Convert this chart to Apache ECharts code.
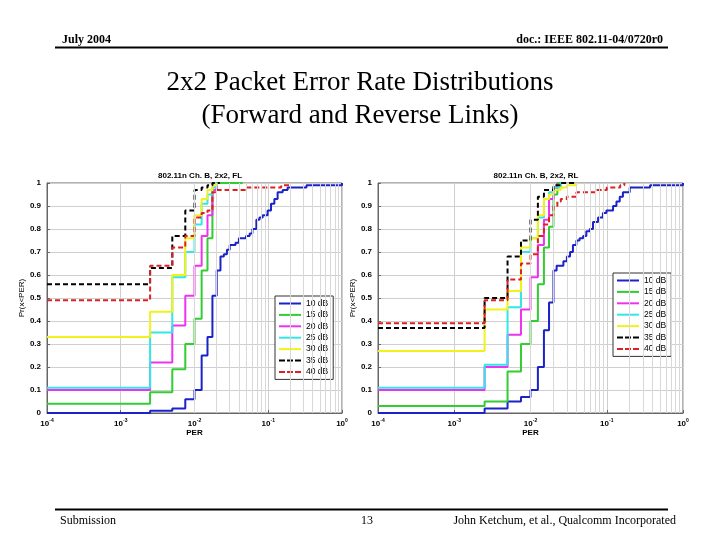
<!DOCTYPE html>
<html lang="en">
<head>
    <meta charset="UTF-8">
    <title>2x2 PER distributions</title>
    <script src="https://cdn.jsdelivr.net/npm/echarts@6/dist/echarts.min.js"></script>
    <style>
        html, body { margin: 0; padding: 0; background: #fff; }
        #main { width: 720px; height: 540px; }
    </style>
</head>
<body>
<div id="main"></div>
<script>
    // series names (legend)
    var snrNames = ['10 dB', '15 dB', '20 dB', '25 dB', '30 dB', '35 dB', '40 dB'];

    // forward link, [PER, Pr(x<PER)]
    var fl10 = [[1e-4, 0], [0.0025, 0.01], [0.005, 0.02], [0.0075, 0.06], [0.01, 0.10], [0.0125, 0.25], [0.015, 0.33],
        [0.0175, 0.51], [0.02, 0.62], [0.0225, 0.68], [0.025, 0.69], [0.0275, 0.71], [0.03, 0.73], [0.036, 0.74],
        [0.04, 0.76], [0.05, 0.77], [0.056, 0.78], [0.061, 0.80], [0.069, 0.84], [0.076, 0.85], [0.084, 0.86],
        [0.098, 0.88], [0.109, 0.91], [0.121, 0.93], [0.134, 0.96], [0.157, 0.97], [0.183, 0.98], [0.33, 0.99], [1, 1.0]];
    var fl15 = [[1e-4, 0.04], [0.0025, 0.09], [0.005, 0.19], [0.0075, 0.30], [0.01, 0.41], [0.0125, 0.62], [0.015, 0.76],
        [0.0175, 0.97], [0.02, 1.0], [0.045, 1.0]];
    var fl20 = [[1e-4, 0.10], [0.0025, 0.22], [0.005, 0.38], [0.0075, 0.51], [0.01, 0.64], [0.0125, 0.77], [0.015, 0.86],
        [0.0175, 0.97], [0.02, 0.99]];
    var fl25 = [[1e-4, 0.11], [0.0025, 0.35], [0.005, 0.59], [0.0075, 0.70], [0.01, 0.82], [0.0125, 0.91], [0.015, 0.95],
        [0.0175, 0.98], [0.02, 1.0]];
    var fl30 = [[1e-4, 0.33], [0.0025, 0.44], [0.005, 0.60], [0.0075, 0.76], [0.01, 0.86], [0.0125, 0.93], [0.015, 0.97],
        [0.0175, 0.99], [0.02, 1.0]];
    var fl35 = [[1e-4, 0.56], [0.0025, 0.63], [0.005, 0.77], [0.0075, 0.88], [0.01, 0.97], [0.0125, 0.98], [0.015, 0.99],
        [0.0175, 1.0], [0.022, 1.0]];
    var fl40 = [[1e-4, 0.49], [0.0025, 0.64], [0.005, 0.72], [0.0075, 0.77], [0.01, 0.85], [0.0125, 0.87], [0.015, 0.88],
        [0.0175, 0.96], [0.02, 0.97], [0.05, 0.98], [0.15, 0.99], [0.21, 0.99]];

    // reverse link
    var rl10 = [[1e-4, 0], [0.0025, 0.02], [0.005, 0.05], [0.0075, 0.07], [0.01, 0.10], [0.0125, 0.20], [0.015, 0.36],
        [0.0175, 0.48], [0.02, 0.62], [0.022, 0.64], [0.027, 0.66], [0.03, 0.68], [0.033, 0.70], [0.036, 0.73],
        [0.04, 0.75], [0.044, 0.76], [0.049, 0.77], [0.054, 0.79], [0.06, 0.80], [0.066, 0.83], [0.077, 0.85],
        [0.089, 0.87], [0.099, 0.88], [0.121, 0.90], [0.134, 0.92], [0.148, 0.94], [0.163, 0.96], [0.2, 0.98],
        [0.37, 0.99], [1, 1.0]];
    var rl15 = [[1e-4, 0.03], [0.0025, 0.05], [0.005, 0.18], [0.0075, 0.30], [0.01, 0.40], [0.0125, 0.56], [0.015, 0.72],
        [0.0175, 0.81], [0.02, 0.95], [0.0225, 1.0], [0.028, 1.0]];
    var rl20 = [[1e-4, 0.10], [0.0025, 0.20], [0.005, 0.34], [0.0075, 0.45], [0.01, 0.59], [0.0125, 0.73], [0.015, 0.84],
        [0.0175, 0.93], [0.02, 0.98], [0.0225, 1.0]];
    var rl25 = [[1e-4, 0.11], [0.0025, 0.21], [0.005, 0.46], [0.0075, 0.70], [0.01, 0.76], [0.0125, 0.85], [0.015, 0.93],
        [0.0175, 0.96], [0.02, 0.98], [0.025, 1.0], [0.028, 1.0]];
    var rl30 = [[1e-4, 0.27], [0.0025, 0.45], [0.005, 0.53], [0.0075, 0.72], [0.01, 0.76], [0.0125, 0.86], [0.015, 0.93],
        [0.0175, 0.95], [0.02, 0.97], [0.025, 0.98], [0.03, 0.99], [0.04, 1.0]];
    var rl35 = [[1e-4, 0.37], [0.0025, 0.50], [0.005, 0.68], [0.0075, 0.75], [0.01, 0.84], [0.0125, 0.94], [0.015, 0.97],
        [0.02, 0.99], [0.025, 1.0], [0.04, 1.0]];
    var rl40 = [[1e-4, 0.39], [0.0025, 0.49], [0.005, 0.58], [0.0075, 0.65], [0.01, 0.69], [0.0125, 0.77], [0.015, 0.82],
        [0.0175, 0.86], [0.02, 0.90], [0.0225, 0.92], [0.025, 0.93], [0.03, 0.94], [0.04, 0.96], [0.07, 0.97],
        [0.1, 0.98], [0.15, 0.99], [0.17, 1.0]];

    var flData = [fl10, fl15, fl20, fl25, fl30, fl35, fl40];
    var rlData = [rl10, rl15, rl20, rl25, rl30, rl35, rl40];

    var colors = ['#1a22c8', '#33cc33', '#ee33ee', '#33e6e6', '#f2f21a', '#000000', '#e02020'];
    var dashed = [false, false, false, false, false, true, true];

    // log minor grid lines (2..9 per decade)
    var minorX = [];
    for (var d = -4; d < 0; d++) {
        for (var m = 2; m <= 9; m++) minorX.push(m * Math.pow(10, d));
    }

    var chart = echarts.init(document.getElementById('main'));

    var axisFont = { color: '#000', fontFamily: 'Arial', fontWeight: 'bold', fontSize: 8 };
    var solidIcon = 'path://M0,0h22v2h-22z';
    var dashIcon = 'path://M0,0h6v2h-6z M8,0h6v2h-6z M16,0h6v2h-6z';

    function xAxisFor(idx) {
        return {
            type: 'log', logBase: 10, min: 1e-4, max: 1, splitNumber: 4, gridIndex: idx,
            name: 'PER', nameLocation: 'middle', nameGap: 16,
            nameTextStyle: axisFont,
            axisLine: { lineStyle: { color: '#666', width: 1 } },
            axisTick: { inside: true, length: 3, lineStyle: { color: '#666' } },
            splitLine: { show: true, lineStyle: { color: '#cfcfcf', width: 1 } },
            axisLabel: {
                color: '#000', fontFamily: 'Arial', fontWeight: 'bold', fontSize: 8, margin: 5,
                formatter: function (v) {
                    return '10{sup|' + Math.round(Math.log10(v)) + '}';
                },
                rich: { sup: { fontSize: 5, fontWeight: 'bold', fontFamily: 'Arial', verticalAlign: 'top', padding: [0, 0, 6, 0] } }
            }
        };
    }

    function yAxisFor(idx) {
        return {
            type: 'value', min: 0, max: 1, interval: 0.1, gridIndex: idx,
            name: 'Pr(x<PER)', nameLocation: 'middle', nameGap: 15, nameRotate: 90,
            nameTextStyle: { color: '#000', fontFamily: 'Arial', fontSize: 8 },
            axisLine: { show: true, lineStyle: { color: '#666', width: 1 } },
            axisTick: { show: true, inside: true, length: 3, lineStyle: { color: '#666' } },
            splitLine: { show: true, lineStyle: { color: '#cfcfcf', width: 1 } },
            axisLabel: { color: '#000', fontFamily: 'Arial', fontWeight: 'bold', fontSize: 8, margin: 6 }
        };
    }

    var series = [];
    [flData, rlData].forEach(function (set, g) {
        // minor vertical grid lines
        series.push({
            type: 'line', xAxisIndex: g, yAxisIndex: g, data: [[1e-4, 0]], symbol: 'none',
            lineStyle: { opacity: 0 }, silent: true, z: 1,
            markLine: {
                silent: true, symbol: 'none', label: { show: false },
                lineStyle: { color: '#d8d8d8', width: 1, type: 'solid' },
                data: minorX.map(function (v) { return { xAxis: v }; })
            }
        });
        set.forEach(function (pts, i) {
            series.push({
                name: snrNames[i], type: 'line', xAxisIndex: g, yAxisIndex: g,
                data: pts, step: 'end', symbol: 'none', z: 3,
                color: colors[i],
                lineStyle: { color: colors[i], width: 2, type: dashed[i] ? [5, 3] : 'solid' }
            });
        });
    });

    function legendFor(left, top) {
        return {
            data: snrNames.map(function (n, i) {
                return { name: n, icon: dashed[i] ? dashIcon : solidIcon };
            }),
            orient: 'vertical', left: left, top: top,
            itemWidth: 22, itemHeight: 2, itemGap: 2.4,
            backgroundColor: '#fff', borderColor: '#333', borderWidth: 1,
            padding: [3, 5, 3, 4],
            textStyle: { color: '#000', fontFamily: 'Arial', fontSize: 8.5 },
            selectedMode: false
        };
    }

    var serif = 'Liberation Serif';
    var option = {
        animation: false,
        backgroundColor: '#fff',
        title: [
            { text: 'July 2004', left: 57, top: 29,
              textStyle: { fontFamily: serif, fontWeight: 'bold', fontSize: 12, color: '#000' } },
            { text: 'doc.: IEEE 802.11-04/0720r0', right: 52, top: 29,
              textStyle: { fontFamily: serif, fontWeight: 'bold', fontSize: 12, color: '#000' } },
            { text: '2x2 Packet Error Rate Distributions', left: 'center', top: 69, padding: 0,
              textStyle: { fontFamily: serif, fontWeight: 'normal', fontSize: 27, color: '#000' } },
            { text: '(Forward and Reverse Links)', left: 'center', top: 102, padding: 0,
              textStyle: { fontFamily: serif, fontWeight: 'normal', fontSize: 27, color: '#000' } },
            { text: '802.11n Ch. B, 2x2, FL', left: 195, top: 167, textAlign: 'center',
              textStyle: { fontFamily: 'Arial', fontWeight: 'bold', fontSize: 8, color: '#000' } },
            { text: '802.11n Ch. B, 2x2, RL', left: 531, top: 167, textAlign: 'center',
              textStyle: { fontFamily: 'Arial', fontWeight: 'bold', fontSize: 8, color: '#000' } },
            { text: 'Submission', left: 55, top: 510,
              textStyle: { fontFamily: serif, fontWeight: 'normal', fontSize: 12, color: '#000' } },
            { text: '13', left: 362, top: 510, textAlign: 'center',
              textStyle: { fontFamily: serif, fontWeight: 'normal', fontSize: 12, color: '#000' } },
            { text: 'John Ketchum, et al., Qualcomm Incorporated', right: 39, top: 510,
              textStyle: { fontFamily: serif, fontWeight: 'normal', fontSize: 12, color: '#000' } }
        ],
        graphic: [
            { type: 'line', shape: { x1: 55, y1: 47.5, x2: 668, y2: 47.5 }, style: { stroke: '#000', lineWidth: 2 } },
            { type: 'line', shape: { x1: 55, y1: 509.5, x2: 668, y2: 509.5 }, style: { stroke: '#000', lineWidth: 2 } }
        ],
        grid: [
            { left: 47, top: 183, width: 295, height: 230, show: true, borderColor: '#666', borderWidth: 1 },
            { left: 378, top: 183, width: 305, height: 230, show: true, borderColor: '#666', borderWidth: 1 }
        ],
        legend: [legendFor(275, 296), legendFor(613, 273)],
        xAxis: [xAxisFor(0), xAxisFor(1)],
        yAxis: [yAxisFor(0), yAxisFor(1)],
        series: series
    };

    chart.setOption(option);
</script>
</body>
</html>
